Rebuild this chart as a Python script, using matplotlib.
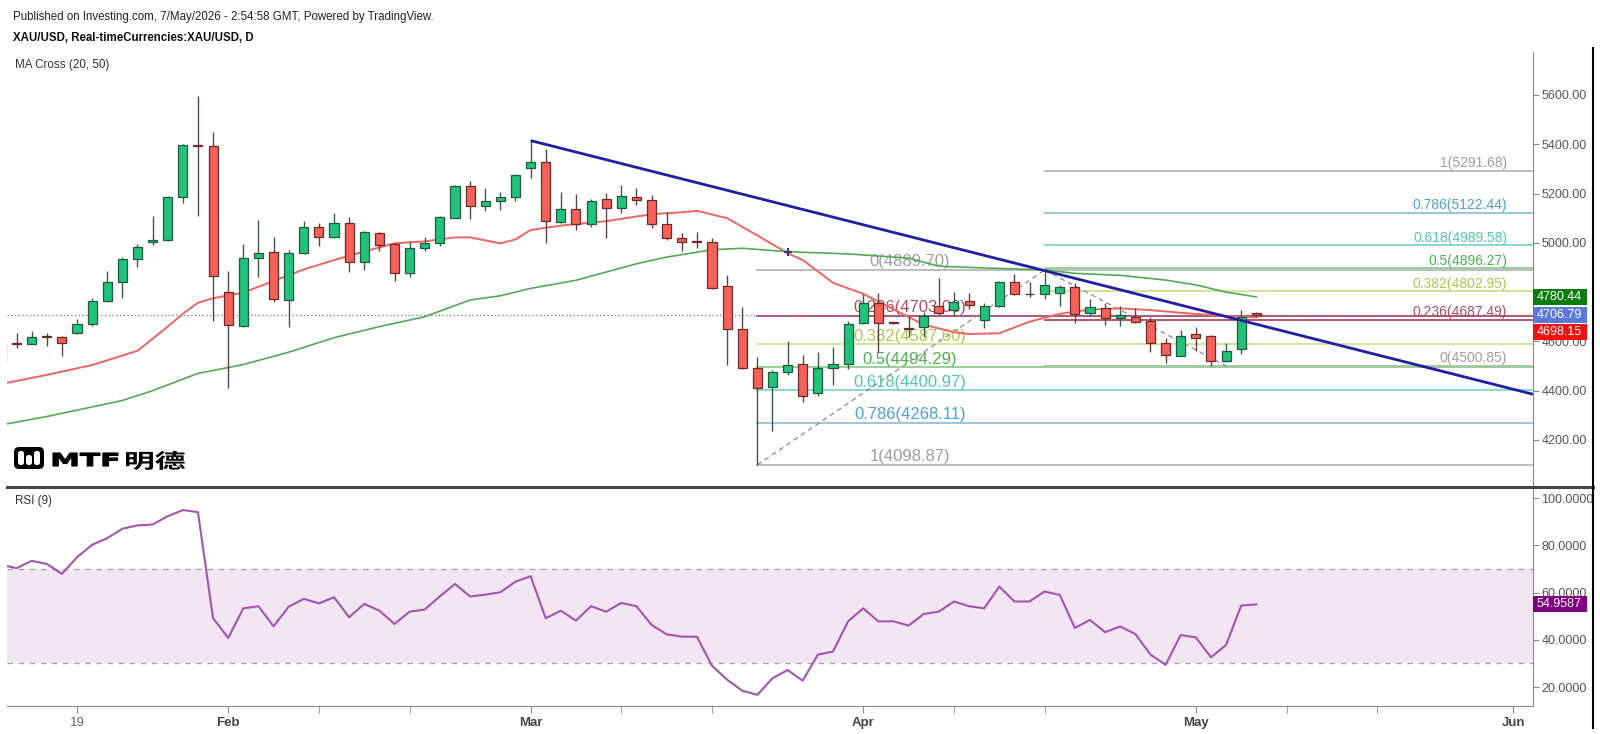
import numpy as np
import matplotlib
matplotlib.use('Agg')
import matplotlib.pyplot as plt
from matplotlib.patches import Rectangle, FancyBboxPatch, PathPatch
from matplotlib.lines import Line2D
from matplotlib.ticker import FormatStrFormatter, FuncFormatter
from matplotlib.textpath import TextPath
from matplotlib.font_manager import FontProperties
from matplotlib.transforms import Affine2D, IdentityTransform

plt.rcParams['font.family'] = ['Liberation Sans', 'DejaVu Sans']

# XAU/USD daily bars, index 0 = 12 Jan 2026 (weekdays only)
opens = [4520, 4594, 4590, 4620, 4617, 4633, 4671, 4764, 4840, 4934,
         5004, 5012, 5187, 5398, 5393, 4799, 4663, 4937, 4964, 4768,
         4960, 5066, 5022, 5079, 4921, 5039, 4994, 4879, 4978, 5001,
         5102, 5231, 5150, 5171, 5187, 5302, 5327, 5086, 5136, 5075,
         5179, 5140, 5187, 5174, 5076, 5018, 5006, 5002, 4825, 4649,
         4491, 4414, 4474, 4508, 4392, 4491, 4508, 4673, 4757, 4677,
         4655, 4657, 4744, 4728, 4764, 4687, 4744, 4842, 4793, 4792,
         4795, 4822, 4717, 4734, 4694, 4698, 4684, 4595, 4542, 4629,
         4623, 4522, 4568, 4717]
highs = [4600, 4633, 4644, 4633, 4620, 4690, 4775, 4887, 4941, 4994,
         5110, 5190, 5400, 5596, 5451, 4887, 4994, 5093, 5022, 4971,
         5089, 5079, 5120, 5104, 5050, 5042, 4998, 5007, 5022, 5109,
         5235, 5252, 5221, 5208, 5280, 5415, 5379, 5208, 5198, 5176,
         5201, 5235, 5221, 5194, 5126, 5038, 5045, 5018, 4869, 4738,
         4538, 4484, 4603, 4545, 4558, 4579, 4684, 4792, 4798, 4680,
         4703, 4720, 4856, 4802, 4795, 4754, 4845, 4873, 4842, 4889.70,
         4829, 4836, 4771, 4757, 4744, 4737, 4700, 4612, 4646, 4660,
         4626, 4592, 4727, 4721]
lows = [4510, 4572, 4588, 4583, 4541, 4630, 4663, 4761, 4775, 4903,
        4991, 5006, 5160, 5110, 4684, 4410, 4657, 4860, 4761, 4657,
        4955, 4989, 5020, 4880, 4890, 4968, 4847, 4860, 4968, 4987,
        5100, 5095, 5131, 5133, 5170, 5262, 4998, 5080, 5052, 5066,
        5018, 5120, 5153, 5059, 5011, 4968, 4978, 4811, 4504, 4487,
        4098.87, 4238, 4464, 4355, 4378, 4423, 4487, 4670, 4558, 4672,
        4619, 4619, 4707, 4703, 4730, 4653, 4740, 4788, 4781, 4771,
        4744, 4673, 4703, 4667, 4662, 4676, 4558, 4514, 4540, 4561,
        4500.85, 4518, 4549, 4698]
closes = [4590, 4590, 4619, 4617, 4592, 4671, 4765, 4840, 4934, 4982,
          5012, 5187, 5397, 5393, 4865, 4667, 4937, 4960, 4771, 4960,
          5066, 5022, 5079, 4921, 5045, 4991, 4879, 4978, 5001, 5106,
          5231, 5150, 5171, 5187, 5275, 5329, 5088, 5136, 5075, 5171,
          5140, 5190, 5174, 5076, 5018, 5005, 5004, 4815, 4649, 4491,
          4409, 4474, 4504, 4378, 4491, 4508, 4671, 4757, 4676, 4675,
          4652, 4703, 4717, 4761, 4748, 4744, 4842, 4792, 4791, 4829,
          4822, 4711, 4738, 4694, 4707, 4680, 4595, 4545, 4623, 4615,
          4522, 4561, 4698, 4706.79]

# moving averages (bar index, value)
ma20_idx = [0, 3, 6, 9, 11, 12, 13, 14, 16, 18, 20, 22, 24, 26, 28, 30, 31, 33,
            34, 35, 37, 40, 43, 45, 46, 48, 50, 52, 53, 55, 57, 59, 61, 63, 64,
            66, 68, 70, 72, 74, 76, 78, 80, 82, 83]
ma20_val = [4427, 4464, 4504, 4562, 4660, 4712, 4757, 4775, 4798, 4845, 4892,
            4930, 4965, 4998, 5006, 5022, 5022, 4998, 5014, 5052, 5070, 5088,
            5116, 5124, 5130, 5100, 5030, 4958, 4930, 4838, 4793, 4730, 4668,
            4637, 4630, 4633, 4680, 4712, 4729, 4734, 4727, 4716, 4707, 4700,
            4698.15]
ma50_idx = [0, 3, 8, 10, 13, 16, 19, 22, 25, 28, 31, 33, 35, 38, 42, 44, 47, 49,
            52, 56, 60, 62, 65, 69, 71, 74, 77, 79, 81, 83]
ma50_val = [4261, 4295, 4360, 4400, 4470, 4506, 4556, 4615, 4660, 4700, 4768,
            4785, 4815, 4848, 4915, 4942, 4972, 4978, 4964, 4955, 4938, 4905,
            4898, 4890, 4876, 4868, 4849, 4829, 4800, 4780.44]
cross_idx = 52
cross_val = 4961

rsi_vals = [71.7, 70.3, 73.4, 72.1, 67.9, 74.9, 80.2, 83.0, 87.0, 88.4,
            88.8, 92.3, 94.9, 94.0, 49.1, 40.8, 53.3, 54.2, 45.7, 54.0,
            57.3, 55.4, 58.0, 49.5, 55.2, 52.3, 46.7, 51.9, 52.8, 58.4,
            63.6, 58.3, 59.1, 60.1, 64.6, 66.9, 49.1, 52.3, 48.1, 54.2,
            51.9, 55.6, 54.2, 46.3, 42.3, 41.3, 41.3, 29.0, 23.1, 18.4,
            16.7, 23.7, 27.2, 22.7, 33.7, 35.0, 47.8, 53.3, 47.8, 47.8,
            46.0, 50.9, 51.9, 56.2, 54.2, 53.3, 62.5, 56.2, 56.2, 60.4,
            59.0, 45.0, 48.4, 43.2, 45.6, 42.4, 33.7, 29.4, 42.0, 41.0,
            32.6, 37.8, 54.5, 54.9587]

# trend line anchors
trend_idx = [35, 69]
trend_val = [5415, 4887]

# fibonacci retracements
fib_levels = ['0', '0.236', '0.382', '0.5', '0.618', '0.786', '1']
fib1_start = 50
fib1_end = 69
fib1_prices = [4889.70, 4703.06, 4587.60, 4494.29, 4400.97, 4268.11, 4098.87]
fib2_start = 69
fib2_end = 81
fib2_prices = [4500.85, 4687.49, 4802.95, 4896.27, 4989.58, 5122.44, 5291.68]
fib_text_colors = ['#9e9e9e', '#b24a5c', '#a9c94c', '#4cb050', '#4fc9a5', '#4a9fd6', '#9e9e9e']
fib_line_colors = ['#b8b8b8', '#b24a5c', '#cfe08f', '#8fcd8f', '#84d5c3', '#8ec5d9', '#b8b8b8']

last_price = 4706.79
ma50_last = 4780.44
ma20_last = 4698.15
rsi_last = 54.9587

month_idx = [5, 15, 35, 57, 79, 100]
month_lab = ['19', 'Feb', 'Mar', 'Apr', 'May', 'Jun']
week_idx = [21, 27, 41, 47, 63, 69, 85, 91]

W, H = 1600, 734
def fx(px):
    return px / W
def fy(py):
    return 1 - py / H

fig = plt.figure(figsize=(16, 7.34), dpi=100)
ax = fig.add_axes([fx(7), fy(487), fx(1533 - 7), (487 - 52) / H])
axr = fig.add_axes([fx(7), fy(706), fx(1533 - 7), (706 - 487) / H], sharex=ax)

xmin, xmax = 0.37, 101.3
ax.set_xlim(xmin, xmax)
ax.set_ylim(4009, 5774.5)
axr.set_ylim(11.96, 104.66)

# ---- price panel
o = np.array(opens); hi = np.array(highs); lo = np.array(lows); c = np.array(closes)
idx = np.arange(len(o))
up = c >= o
ax.vlines(idx[up], lo[up], hi[up], color='#3f5a4a', lw=1, zorder=4)
ax.vlines(idx[~up], lo[~up], hi[~up], color='#5a4444', lw=1, zorder=4)
body = np.maximum(np.abs(c - o), 2)
ax.bar(idx[up], body[up], bottom=np.minimum(o, c)[up], width=0.6,
       color='#22c27c', edgecolor='#1e5a3c', lw=0.9, zorder=5)
ax.bar(idx[~up], body[~up], bottom=np.minimum(o, c)[~up], width=0.6,
       color='#f6625a', edgecolor='#6e2a28', lw=0.9, zorder=5)

ax.plot(ma20_idx, ma20_val, color='#ef6461', lw=1.4, zorder=3)
ax.plot(ma50_idx, ma50_val, color='#55a955', lw=1.2, zorder=3)
ax.plot([cross_idx], [cross_val], marker='+', ms=6, mew=1.5, color='#333388', zorder=6)

# fib levels
for k in range(len(fib_levels)):
    ax.plot([fib1_start, xmax], [fib1_prices[k]] * 2, color=fib_line_colors[k], lw=1.3, zorder=1)
    ax.plot([fib2_start, xmax], [fib2_prices[k]] * 2, color=fib_line_colors[k], lw=1.3, zorder=1)
    ax.annotate('%s(%.2f)' % (fib_levels[k], fib1_prices[k]),
                (60.1, fib1_prices[k]), xytext=(0, 0.5),
                textcoords='offset points', ha='center', va='bottom',
                color=fib_text_colors[k], fontsize=12, zorder=2)
    ax.annotate('%s(%.2f)' % (fib_levels[k], fib2_prices[k]),
                (99.6, fib2_prices[k]), xytext=(0, 0.5),
                textcoords='offset points', ha='right', va='bottom',
                color=fib_text_colors[k], fontsize=10, zorder=2)
ax.plot([fib1_start, fib1_end], [fib1_prices[-1], fib1_prices[0]], color='#8a8a8a',
        lw=0.9, ls=(0, (4, 3)), zorder=2)
ax.plot([fib2_start, fib2_end], [fib1_prices[0], fib2_prices[0]], color='#8a8a8a',
        lw=0.9, ls=(0, (4, 3)), zorder=2)

ax.axhline(last_price, color='#5c6fd0', lw=0.9, ls=(0, (1, 2)), zorder=2)

# trend line
slope = (trend_val[1] - trend_val[0]) / (trend_idx[1] - trend_idx[0])
ax.plot([trend_idx[0], xmax], [trend_val[0], trend_val[0] + slope * (xmax - trend_idx[0])],
        color='#1f1fa6', lw=2, zorder=6, solid_capstyle='butt')

for s in ['top', 'left', 'bottom']:
    ax.spines[s].set_visible(False)
ax.spines['right'].set_color('#8a8a8a')
ax.yaxis.tick_right()
ax.set_yticks(range(4200, 5601, 200))
# 4800 sits behind the MA50 value box
ax.yaxis.set_major_formatter(FuncFormatter(lambda v, p: '' if v == 4800 else '%.2f' % v))
ax.tick_params(axis='y', colors='#8a8a8a', labelcolor='#555555', labelsize=9, length=4, pad=2)
ax.tick_params(axis='x', bottom=False, labelbottom=False)

# right side value boxes
ppu = 0.2464
bw = 54 / 1526.0
for val, shift, col in [(ma50_last, 0, '#0b7d0b'), (last_price, 0, '#5b78dc'), (ma20_last, 15, '#f01010')]:
    yc = val - shift / ppu
    h = 16 / ppu
    ax.add_patch(Rectangle((1.0, yc - h / 2), bw, h, transform=ax.get_yaxis_transform(),
                           facecolor=col, edgecolor='none', clip_on=False, zorder=10))
    ax.text(1.0 + 4 / 1526.0, yc, '%.2f' % val, transform=ax.get_yaxis_transform(),
            color='white', fontsize=9, va='center', ha='left', clip_on=False, zorder=11)

# ---- RSI panel
axr.axhspan(30, 70, color='#f3e6f3', zorder=0, lw=0)
axr.axhline(70, color='#a8a8a8', lw=1, ls=(0, (4, 4)), zorder=1)
axr.axhline(30, color='#a8a8a8', lw=1, ls=(0, (4, 4)), zorder=1)
axr.plot(idx, rsi_vals, color='#a452b4', lw=1.5, zorder=3)

for s in ['top', 'left']:
    axr.spines[s].set_visible(False)
axr.spines['right'].set_color('#8a8a8a')
axr.spines['bottom'].set_color('#8a8a8a')
axr.yaxis.tick_right()
axr.set_yticks([20, 40, 60, 80, 100])
axr.yaxis.set_major_formatter(FormatStrFormatter('%.4f'))
axr.tick_params(axis='y', colors='#8a8a8a', labelcolor='#555555', labelsize=9, length=4, pad=2)
axr.set_xticks(month_idx)
axr.set_xticklabels(month_lab)
axr.set_xticks(week_idx, minor=True)
axr.tick_params(axis='x', which='both', colors='#8a8a8a', length=5, pad=3, labelsize=9.5)
for t in axr.get_xticklabels():
    if t.get_text() == '19':
        t.set_color('#666666')
    else:
        t.set_color('#444444')
        t.set_fontweight('bold')

rh = 16 / 2.3625
axr.add_patch(Rectangle((1.0, rsi_last - rh / 2), bw, rh, transform=axr.get_yaxis_transform(),
                        facecolor='#800080', edgecolor='none', clip_on=False, zorder=10))
axr.text(1.0 + 4 / 1526.0, rsi_last, '%.4f' % rsi_last, transform=axr.get_yaxis_transform(),
         color='white', fontsize=9, va='center', ha='left', clip_on=False, zorder=11)

# ---- frame lines
fig.add_artist(Line2D([fx(7), fx(1593)], [fy(487), fy(487)], color='#444444', lw=2.2))
fig.add_artist(Line2D([fx(1593), fx(1593)], [fy(48), fy(728)], color='black', lw=1.5))

# ---- header text
fig.text(fx(13), fy(17), 'Published on Investing.com, 7/May/2026 - 2:54:58 GMT, Powered by TradingView.',
         fontsize=8.3, color='#222222', va='center')
fig.text(fx(13), fy(38), 'XAU/USD, Real-timeCurrencies:XAU/USD, D',
         fontsize=8.3, color='#111111', va='center', fontweight='bold')
fig.text(fx(15), fy(65), 'MA Cross (20, 50)', fontsize=8.4, color='#333333', va='center')
fig.text(fx(15), fy(501), 'RSI (9)', fontsize=8.4, color='#333333', va='center')

# ---- MTF logo
idt = IdentityTransform()
fig.add_artist(FancyBboxPatch((14, H - 469), 30, 22, boxstyle='round,pad=0,rounding_size=5',
                              facecolor='black', edgecolor='none', transform=idt))
for bx, btop in [(18, 451), (26, 455), (34, 451)]:
    fig.add_artist(FancyBboxPatch((bx, H - 465), 6, 465 - btop, boxstyle='round,pad=0,rounding_size=2.5',
                                  facecolor='white', edgecolor='none', transform=idt))


def stretched_text(s, family, x0, x1, ytop, ybot, cap):
    tp = TextPath((0, 0), s, size=1, prop=FontProperties(family=family, weight='bold'))
    ext = tp.get_extents()
    sx = (x1 - x0) / ext.width
    sy = (ybot - ytop) / cap
    tr = Affine2D().translate(-ext.x0, 0).scale(sx, sy).translate(x0, H - ybot) + idt
    fig.add_artist(PathPatch(tp, transform=tr, facecolor='black', edgecolor='black', lw=0.8))


stretched_text('MTF', 'DejaVu Sans', 53, 118, 453, 466, 0.729)
tp_cjk = TextPath((0, 0), '明德', size=1, prop=FontProperties(family='Noto Sans CJK SC', weight='bold'))
e = tp_cjk.get_extents()
sx = (185 - 126) / e.width
sy = (470 - 451) / e.height
tr = Affine2D().translate(-e.x0, -e.y0).scale(sx, sy).translate(126, H - 470) + idt
fig.add_artist(PathPatch(tp_cjk, transform=tr, facecolor='black', edgecolor='none'))

fig.savefig('out.png', dpi=100, facecolor='white')
